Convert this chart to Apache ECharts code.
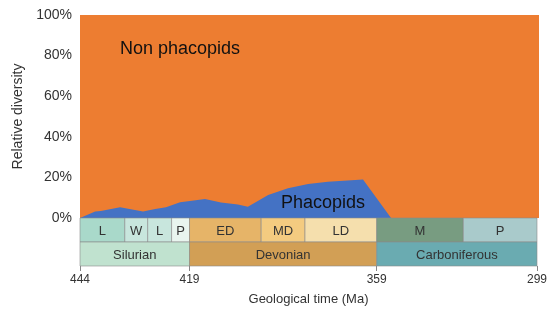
<!DOCTYPE html>
<html>
<head>
<meta charset="utf-8">
<script src="https://cdn.jsdelivr.net/npm/echarts@6/dist/echarts.min.js"></script>
<style>
  html, body { margin: 0; padding: 0; background: #fff; }
  #chart { width: 550px; height: 311px; }
</style>
</head>
<body>
<div id="chart"></div>
<script>
// geological time scale used on the x axis (Ma); the figure draws each interval with its own width
var scaleAges = [444, 433, 427, 423, 419, 393, 383, 359, 323, 299];
var scaleWidths = [45, 23, 24, 18, 72, 44, 72, 87, 74];

// sub-periods (top row) and periods (bottom row)
var epochNames = ['L', 'W', 'L', 'P', 'ED', 'MD', 'LD', 'M', 'P'];
var epochStart = [444, 433, 427, 423, 419, 393, 383, 359, 323];
var epochEnd = [433, 427, 423, 419, 393, 383, 359, 323, 299];
var periodNames = ['Silurian', 'Devonian', 'Carboniferous'];
var periodStart = [444, 419, 359];
var periodEnd = [419, 359, 299];
var tickAges = [444, 419, 359, 299];

// relative diversity of phacopids (%); non phacopids make up the rest to 100%
var ages = [444, 440.3, 438.9, 434.2, 428.3, 425.8, 424, 421.2, 419, 413.6, 407.8, 401.7, 398.1, 391.6, 387.1, 382.3, 375.7, 364, 353.6, 299];
var phacopids = [0, 3.2, 3.5, 5.3, 3.2, 4.4, 5.3, 7.8, 8.4, 9.4, 7.6, 6.6, 5.6, 11.3, 14.6, 16.7, 17.9, 19.0, 0, 0];
var totalAges = [444, 299];
var total = [100, 100];

var epochColors = ['#a9d9ca', '#c8e6dd', '#c8e6dd', '#e9f5ef', '#e6b468', '#f4cb80', '#f5dfad', '#789c81', '#a9cacb'];
var periodColors = ['#c0e2cf', '#d29f55', '#6aabb1'];

// age -> position along the drawn axis
var edges = [0];
scaleWidths.forEach(function (w, i) { edges.push(edges[i] + w); });
function toPos(age) {
    for (var i = 0; i < scaleAges.length - 1; i++) {
        if (age <= scaleAges[i] && age >= scaleAges[i + 1]) {
            var t = (scaleAges[i] - age) / (scaleAges[i] - scaleAges[i + 1]);
            return edges[i] + t * scaleWidths[i];
        }
    }
    return age > scaleAges[0] ? 0 : edges[edges.length - 1];
}
var axisMax = edges[edges.length - 1];

var blueData = ages.map(function (a, i) { return [toPos(a), phacopids[i]]; });
var orangeData = totalAges.map(function (a, i) { return [toPos(a), total[i]]; });

var boxes = [];
epochNames.forEach(function (n, i) {
    boxes.push({ value: [toPos(epochStart[i]), toPos(epochEnd[i]), 1, 2], name: n, color: epochColors[i] });
});
periodNames.forEach(function (n, i) {
    boxes.push({ value: [toPos(periodStart[i]), toPos(periodEnd[i]), 0, 1], name: n, color: periodColors[i] });
});

var tickPos = tickAges.map(toPos);
var font = 'Liberation Sans, Arial, sans-serif';

var myChart = echarts.init(document.getElementById('chart'));
option = {
    animation: false,
    textStyle: { fontFamily: font },
    grid: [
        { left: 80, right: 11, top: 15, height: 203 },
        { left: 80, right: 11, top: 218, height: 48 }
    ],
    xAxis: [
        { type: 'value', gridIndex: 0, min: 0, max: axisMax, show: false },
        {
            type: 'value', gridIndex: 1, min: 0, max: axisMax,
            splitLine: { show: false },
            axisLine: { show: false },
            axisTick: { show: true, customValues: tickPos, length: 5, lineStyle: { color: '#888' } },
            axisLabel: {
                customValues: tickPos, margin: 8, color: '#333', fontSize: 12,
                formatter: function (v) {
                    var i = tickPos.indexOf(v);
                    return i >= 0 ? String(tickAges[i]) : '';
                }
            },
            name: 'Geological time (Ma)', nameLocation: 'middle', nameGap: 27,
            nameTextStyle: { color: '#333', fontSize: 13 }
        }
    ],
    yAxis: [
        {
            type: 'value', gridIndex: 0, min: 0, max: 100, interval: 20,
            axisLine: { show: false }, axisTick: { show: false }, splitLine: { show: false },
            axisLabel: { formatter: '{value}%', color: '#333', fontSize: 14, margin: 8 },
            name: 'Relative diversity', nameLocation: 'middle', nameRotate: 90, nameGap: 48,
            nameTextStyle: { color: '#333', fontSize: 14 }
        },
        { type: 'value', gridIndex: 1, min: 0, max: 2, show: false }
    ],
    series: [
        {
            name: 'Non phacopids', type: 'line', xAxisIndex: 0, yAxisIndex: 0,
            data: orangeData, showSymbol: false, symbol: 'none',
            lineStyle: { width: 0 }, areaStyle: { color: '#ed7d31', opacity: 1 }, z: 1
        },
        {
            name: 'Phacopids', type: 'line', xAxisIndex: 0, yAxisIndex: 0,
            data: blueData, showSymbol: false, symbol: 'none',
            lineStyle: { width: 0 }, areaStyle: { color: '#4472c4', opacity: 1 }, z: 2
        },
        {
            type: 'custom', xAxisIndex: 1, yAxisIndex: 1,
            data: boxes,
            renderItem: function (params, api) {
                var p0 = api.coord([api.value(0), api.value(3)]);
                var p1 = api.coord([api.value(1), api.value(2)]);
                var b = boxes[params.dataIndex];
                return {
                    type: 'group',
                    children: [
                        {
                            type: 'rect',
                            shape: { x: p0[0], y: p0[1], width: p1[0] - p0[0], height: p1[1] - p0[1] },
                            style: { fill: b.color, stroke: '#8a8a8a', lineWidth: 0.6 }
                        },
                        {
                            type: 'text',
                            style: {
                                text: b.name, x: (p0[0] + p1[0]) / 2, y: (p0[1] + p1[1]) / 2 + 1,
                                align: 'center', verticalAlign: 'middle',
                                fill: '#333', fontSize: 13, fontFamily: font
                            }
                        }
                    ]
                };
            }
        }
    ],
    graphic: [
        { type: 'text', z: 100, left: 120, top: 40, style: { text: 'Non phacopids', fontSize: 18, fill: '#111', fontFamily: font } },
        { type: 'text', z: 100, left: 281, top: 194, style: { text: 'Phacopids', fontSize: 18, fill: '#111', fontFamily: font } }
    ]
};
myChart.setOption(option);
</script>
</body>
</html>
